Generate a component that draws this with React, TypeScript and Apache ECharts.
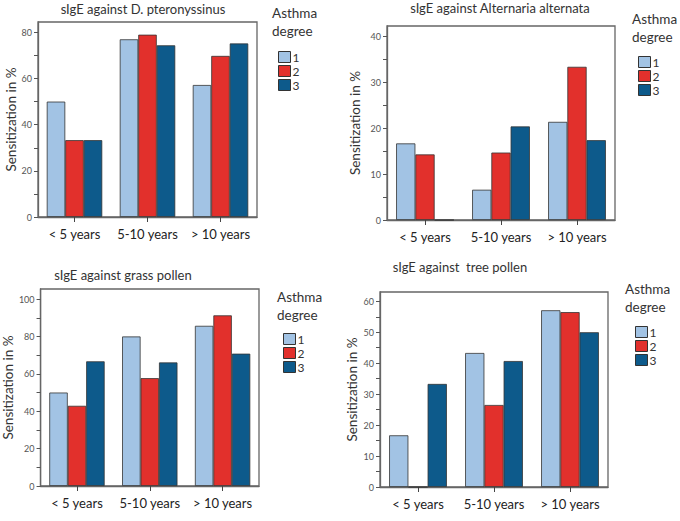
import React, { useEffect, useRef } from "react";
import * as echarts from "echarts";

const categories = ["< 5 years", "5-10 years", "> 10 years"];
const degrees = ["1", "2", "3"];
const titles = [
  "sIgE against D. pteronyssinus",
  "sIgE against Alternaria alternata",
  "sIgE against grass pollen",
  "sIgE against  tree pollen",
];

// values per panel: [degree1, degree2, degree3], each over categories
const dPteronyssinus = [
  [50, 77, 57.2],
  [33.3, 79, 69.8],
  [33.3, 74.4, 75.2],
];
const alternaria = [
  [16.7, 6.6, 21.4],
  [14.3, 14.7, 33.4],
  [0, 20.4, 17.4],
];
const grassPollen = [
  [50, 80, 85.7],
  [42.9, 57.7, 91.3],
  [66.7, 66.1, 70.8],
];
const treePollen = [
  [16.7, 43.3, 57.1],
  [0, 26.5, 56.5],
  [33.3, 40.7, 50],
];
const panelData = [dPteronyssinus, alternaria, grassPollen, treePollen];

const yMax = [84.5, 42.3, 105.4, 63];
const yInterval = [10, 5, 10, 5];
const yLabelStep = [20, 10, 20, 10];

const colors = ["#a2c3e4", "#e2302c", "#0d5a8b"];
const FONT = "Lato, 'Open Sans', sans-serif";

const grids = [
  { left: 38, top: 22, width: 219, height: 195 },
  { left: 387, top: 26, width: 228, height: 194 },
  { left: 33, top: 289, width: 226, height: 197 },
  { left: 380, top: 292, width: 228, height: 195 },
];
const nameGaps = [18, 25, 15, 21];
const titlePos = [
  { x: 143, y: 1 },
  { x: 500, y: 0 },
  { x: 123, y: 267 },
  { x: 460, y: 259 },
];
const legendHeadPos = [
  { x: 272, y: 4 },
  { x: 632, y: 10 },
  { x: 277, y: 288 },
  { x: 625, y: 280 },
];
const legendPos = [
  { x: 278, y: 51 },
  { x: 638, y: 56 },
  { x: 283, y: 333 },
  { x: 635, y: 326 },
];

export default function App() {
  const ref = useRef<HTMLDivElement>(null);
  useEffect(() => {
    if (!ref.current) return;
    const chart = echarts.init(ref.current, undefined, { renderer: "svg" });
    const title: any[] = [];
    titles.forEach((t, i) => {
      title.push({
        text: t,
        left: titlePos[i].x,
        top: titlePos[i].y,
        padding: 0,
        textAlign: "center",
        textStyle: { fontFamily: FONT, fontSize: 13, fontWeight: "normal", color: "#333", lineHeight: 16 },
      });
      title.push({
        text: "Asthma\ndegree",
        left: legendHeadPos[i].x,
        top: legendHeadPos[i].y,
        padding: 0,
        textStyle: {
          fontFamily: FONT,
          fontSize: 13.5,
          fontWeight: "normal",
          color: "#333",
          lineHeight: 18,
        },
      });
    });
    const series: any[] = [];
    panelData.forEach((panel, p) => {
      panel.forEach((vals, d) => {
        series.push({
          type: "bar",
          name: degrees[d],
          xAxisIndex: p,
          yAxisIndex: p,
          data: vals,
          barGap: "0%",
          barCategoryGap: "24%",
          itemStyle: { color: colors[d], borderColor: "#333", borderWidth: 0.8 },
        });
      });
    });
    chart.setOption({
      animation: false,
      title,
      grid: grids.map((g) => ({
        ...g,
        show: true,
        borderColor: "#666",
        borderWidth: 1.3,
        backgroundColor: "transparent",
        containLabel: false,
      })),
      legend: legendPos.map((pos) => ({
        data: degrees,
        left: pos.x,
        top: pos.y,
        orient: "vertical",
        itemWidth: 12,
        itemHeight: 11,
        itemGap: 2,
        padding: 0,
        icon: "rect",
        selectedMode: false,
        itemStyle: { borderColor: "#333", borderWidth: 1 },
        textStyle: { fontFamily: FONT, fontSize: 12, color: "#333", lineHeight: 12, padding: [0, 0, 0, -3] },
      })),
      xAxis: grids.map((_, i) => ({
        type: "category",
        gridIndex: i,
        data: categories,
        axisLine: { lineStyle: { color: "#666", width: 1.3 } },
        axisTick: { show: true, alignWithLabel: true, length: 5, lineStyle: { color: "#444" } },
        axisLabel: { fontFamily: FONT, fontSize: 13, color: "#222", margin: 10, interval: 0 },
      })),
      yAxis: grids.map((_, i) => ({
        type: "value",
        gridIndex: i,
        min: 0,
        max: yMax[i],
        interval: yInterval[i],
        name: "Sensitization in %",
        nameLocation: "middle",
        nameGap: nameGaps[i],
        nameTextStyle: { fontFamily: FONT, fontSize: 13.5, color: "#333" },
        splitLine: { show: false },
        axisLine: { show: true, lineStyle: { color: "#666", width: 1.3 } },
        axisTick: { show: true, length: 4, lineStyle: { color: "#555" } },
        axisLabel: {
          fontFamily: FONT,
          fontSize: 9,
          color: "#555",
          margin: 6,
          showMaxLabel: false,
          formatter: (v: number) =>
            Math.abs(v / yLabelStep[i] - Math.round(v / yLabelStep[i])) < 1e-6 ? String(v) : "",
        },
      })),
      series,
    });
    return () => chart.dispose();
  }, []);
  return (
    <div
      ref={ref}
      style={{ position: "fixed", left: 0, top: 0, width: 680, height: 521, background: "#fff" }}
    />
  );
}
